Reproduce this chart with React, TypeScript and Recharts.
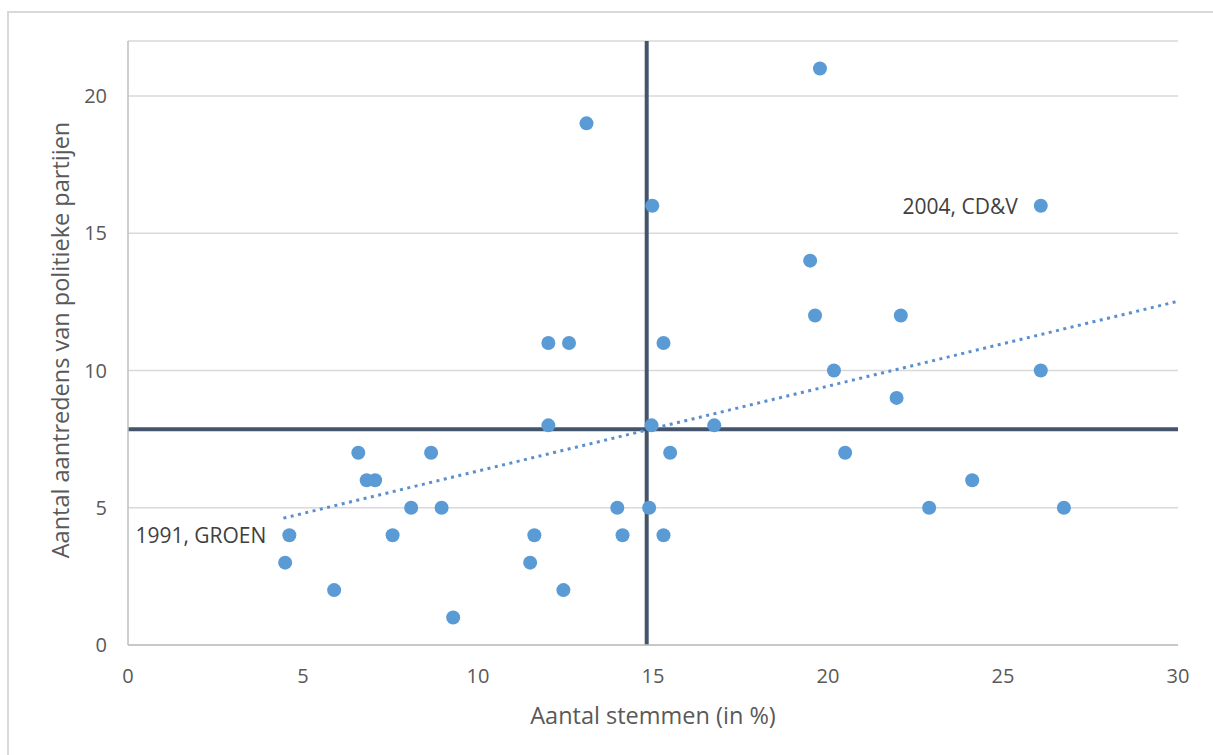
import React from 'react';
import {
  ScatterChart,
  Scatter,
  XAxis,
  YAxis,
  CartesianGrid,
  ReferenceLine
} from 'recharts';

// Aantal stemmen (in %) per partij/verkiezing
const votes = [
  4.49, 4.61, 5.89, 6.58, 6.82, 7.06, 7.56, 8.09, 8.66, 8.96,
  9.29, 11.49, 11.61, 12.01, 12.01, 12.44, 12.6, 13.1, 13.98, 14.13,
  14.89, 14.96, 14.98, 15.3, 15.3, 15.49, 16.75, 19.49, 19.63, 19.77,
  20.17, 20.49, 21.96, 22.08, 22.89, 24.12, 26.08, 26.08, 26.74
];

// Aantal aantredens van politieke partijen
const appointments = [
  3, 4, 2, 7, 6, 6, 4, 5, 7, 5,
  1, 3, 4, 11, 8, 2, 11, 19, 5, 4,
  5, 8, 16, 11, 4, 7, 8, 14, 12, 21,
  10, 7, 9, 12, 5, 6, 16, 10, 5
];

const pointLabels = [
  '', '1991, GROEN', '', '', '', '', '', '', '', '',
  '', '', '', '', '', '', '', '', '', '',
  '', '', '', '', '', '', '', '', '', '',
  '', '', '', '', '', '', '2004, CD&V', '', ''
];

const xTicks = [0, 5, 10, 15, 20, 25, 30];
const yTicks = [0, 5, 10, 15, 20];

// gemiddelden (kwadrantlijnen)
const meanVotes = 14.82;
const meanAppointments = 7.86;

const trendX = [4.44, 30];
const trendY = [4.62, 12.52];

const FONT = "'Open Sans', sans-serif";

const data = votes.map((v, i) => ({
  x: v,
  y: appointments[i],
  label: pointLabels[i]
}));

const Dot = (props: any) => {
  const { cx, cy, payload } = props;
  return (
    <g>
      <circle cx={cx} cy={cy} r={7} fill="#5b9bd5" />
      {payload.label ? (
        <text
          x={cx - 23}
          y={cy}
          textAnchor="end"
          dominantBaseline="central"
          fontSize={21}
          fontFamily={FONT}
          fill="#404040"
        >
          {payload.label}
        </text>
      ) : null}
    </g>
  );
};

const XTitle = ({ viewBox }: any) => {
  const cx = viewBox.x + viewBox.width / 2;
  const cy = viewBox.y + 70;
  return (
    <text x={cx} y={cy} textAnchor="middle" dominantBaseline="central" fontSize={23.5} fontFamily={FONT} fill="#595959">
      Aantal stemmen (in %)
    </text>
  );
};

const YTitle = ({ viewBox }: any) => {
  const cx = 60;
  const cy = viewBox.y + viewBox.height / 2 - 3;
  return (
    <text
      x={cx}
      y={cy}
      transform={`rotate(-90 ${cx} ${cy})`}
      textAnchor="middle"
      dominantBaseline="central"
      fontSize={23.5}
      fontFamily={FONT}
      fill="#595959"
    >
      Aantal aantredens van politieke partijen
    </text>
  );
};

const App: React.FC = () => {
  return (
    <div style={{ position: 'fixed', left: 0, top: 0, width: 1213, height: 755, overflow: 'hidden', background: '#fff' }}>
      <div
        style={{
          position: 'absolute',
          left: 7,
          top: 11,
          width: 1230,
          height: 770,
          border: '2px solid #d9d9d9'
        }}
      />
      <div style={{ position: 'absolute', left: 0, top: 0 }}>
        <ScatterChart
          width={1213}
          height={755}
          margin={{ top: 41, right: 35, bottom: 0, left: 0 }}
          style={{ fontFamily: FONT }}
        >
          <CartesianGrid vertical={false} stroke="#d9d9d9" strokeWidth={1.5} />
          <XAxis
            type="number"
            dataKey="x"
            domain={[0, 30]}
            ticks={xTicks}
            height={110}
            tickLine={false}
            tickSize={0}
            tickMargin={24}
            axisLine={{ stroke: '#bfbfbf', strokeWidth: 1.5 }}
            tick={{ fontSize: 20, fill: '#595959', fontFamily: FONT }}
            label={<XTitle />}
          />
          <YAxis
            type="number"
            dataKey="y"
            domain={[0, 22]}
            ticks={yTicks}
            width={128}
            tickLine={false}
            tickSize={0}
            tickMargin={21}
            axisLine={{ stroke: '#bfbfbf', strokeWidth: 1.5 }}
            tick={{ fontSize: 20, fill: '#595959', fontFamily: FONT }}
            label={<YTitle />}
          />

          <ReferenceLine x={meanVotes} stroke="#44546a" strokeWidth={4} />
          <ReferenceLine y={meanAppointments} stroke="#44546a" strokeWidth={4} />
          <ReferenceLine
            segment={[
              { x: trendX[0], y: trendY[0] },
              { x: trendX[1], y: trendY[1] }
            ]}
            stroke="#5b8fce"
            strokeWidth={3}
            strokeDasharray="3 4.5"
          />

          <Scatter data={data} shape={<Dot />} isAnimationActive={false} />
        </ScatterChart>
      </div>
    </div>
  );
};

export default App;
